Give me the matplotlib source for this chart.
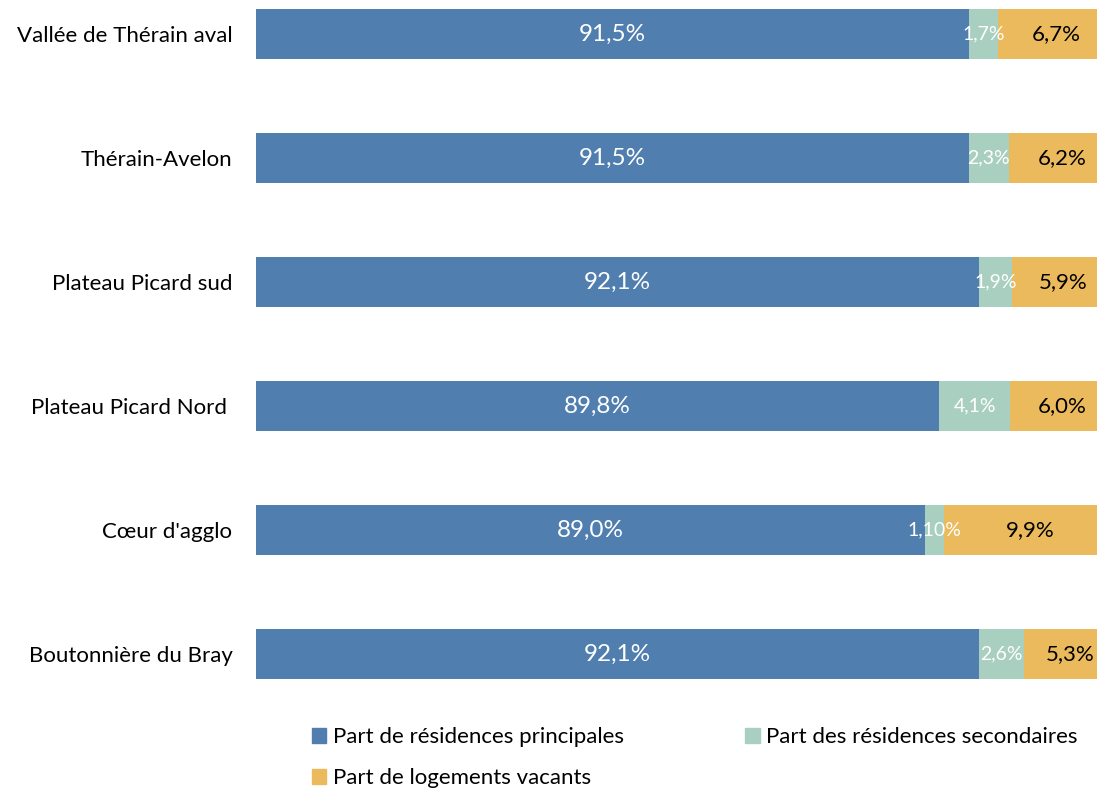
import matplotlib.pyplot as plt
from matplotlib.patches import Patch

plt.rcParams["font.family"] = ["Lato", "DejaVu Sans"]

# parts of housing per sector (%), top to bottom
secteurs = [
    "Vallée de Thérain aval",
    "Thérain-Avelon",
    "Plateau Picard sud",
    "Plateau Picard Nord ",
    "Cœur d'agglo",
    "Boutonnière du Bray",
]
principales = [91.5, 91.5, 92.1, 89.8, 89.0, 92.1]
secondaires = [1.7, 2.3, 1.9, 4.1, 1.1, 2.6]
vacants = [6.7, 6.2, 5.9, 6.0, 9.9, 5.3]

lab_principales = ["91,5%", "91,5%", "92,1%", "89,8%", "89,0%", "92,1%"]
lab_secondaires = ["1,7%", "2,3%", "1,9%", "4,1%", "1,10%", "2,6%"]
lab_vacants = ["6,7%", "6,2%", "5,9%", "6,0%", "9,9%", "5,3%"]

c_princ = "#4F7EAF"
c_sec = "#A9CFC0"
c_vac = "#EBBA5C"

fig = plt.figure(figsize=(10.97, 7.88), dpi=100)
ax = fig.add_axes([256 / 1097, 1 - 700 / 788, 1 - 256 / 1097, 700 / 788])

xmin = 50.55
pos = list(range(len(secteurs)))
h = 0.403

ax.barh(pos, principales, height=h, color=c_princ)
left2 = principales
ax.barh(pos, secondaires, left=left2, height=h, color=c_sec)
left3 = [a + b for a, b in zip(principales, secondaires)]
ax.barh(pos, vacants, left=left3, height=h, color=c_vac)

for i in pos:
    ax.text((xmin + principales[i]) / 2, i, lab_principales[i], color="white",
            fontsize=17.5, ha="center", va="center")
    ax.text(left2[i] + secondaires[i] / 2, i, lab_secondaires[i], color="white",
            fontsize=14, ha="center", va="center")
    ax.text(left3[i] + vacants[i] / 2, i, lab_vacants[i], color="black",
            fontsize=16, ha="center", va="center")

ax.set_xlim(xmin, xmin + 841 / 17.4)
ax.set_ylim(5.371, -0.274)
ax.set_yticks(pos)
ax.set_yticklabels(secteurs, fontsize=16)
ax.tick_params(axis="y", length=0, pad=17)
ax.set_xticks([])
for s in ax.spines.values():
    s.set_visible(False)

# legend filled column by column: left column principales / vacants
handles = [
    Patch(color=c_princ, label="Part de résidences principales"),
    Patch(color=c_vac, label="Part de logements vacants"),
    Patch(color=c_sec, label="Part des résidences secondaires"),
]
fig.legend(handles=handles, loc="upper left", bbox_to_anchor=(312 / 1097, 1 - 727 / 788),
           ncol=2, frameon=False, fontsize=16, handlelength=0.65, handleheight=0.65,
           handletextpad=0.3, columnspacing=5.45, labelspacing=0.95, borderpad=0,
           borderaxespad=0)

plt.savefig("out.png")
